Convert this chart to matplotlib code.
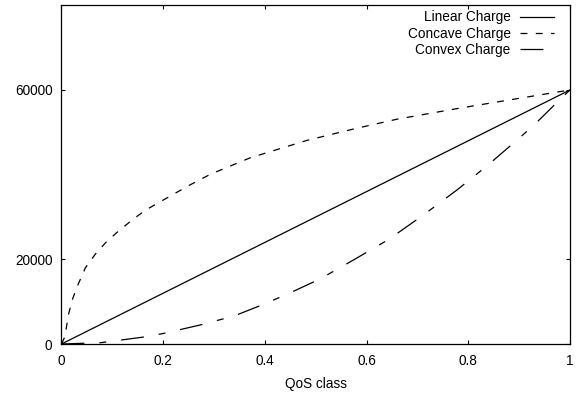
import matplotlib
matplotlib.use("Agg")
import matplotlib.pyplot as plt

plt.rcParams["font.family"] = ["Liberation Sans", "DejaVu Sans"]
plt.rcParams["lines.scale_dashes"] = False

# QoS class positions and charge values
linear_x = [0.0, 1.0]
linear_y = [0, 60000]

concave_x = [0.0, 0.0065, 0.0144, 0.022, 0.031, 0.047, 0.067, 0.0865, 0.1095,
             0.139, 0.165, 0.2045, 0.25, 0.293, 0.3716, 0.483, 0.575, 0.66,
             0.778, 0.909, 1.0]
concave_y = [0, 1700, 7300, 10700, 13600, 18000, 21300, 23900, 26400,
             29300, 31600, 34300, 37400, 40100, 44000, 48100, 50800, 53100,
             55600, 58200, 60000]

convex_x = [0.0, 0.0767, 0.165, 0.201, 0.273, 0.339, 0.398, 0.45, 0.509,
            0.575, 0.6435, 0.712, 0.778, 0.837, 0.902, 0.935, 0.9876, 1.0]
convex_y = [0, 300, 1700, 2500, 4500, 6600, 9400, 12100, 15400,
            19900, 24700, 30500, 36400, 42100, 48800, 52400, 58600, 60000]

x_ticks = [0, 0.2, 0.4, 0.6, 0.8, 1]
x_tick_labels = ["0", "0.2", "0.4", "0.6", "0.8", "1"]
y_ticks = [0, 20000, 60000]
y_tick_labels = ["0", "20000", "60000"]

fig = plt.figure(figsize=(5.84, 4.0), dpi=100)
ax = fig.add_axes([0.1053, 0.14, 0.976 - 0.1053, 0.9868 - 0.14])

lw = 0.9
ax.plot(linear_x, linear_y, color="black", lw=lw, label="Linear Charge")
ax.plot(concave_x, concave_y, color="black", lw=lw, linestyle=(0, (5.0, 6.0)),
        label="Concave Charge")
ax.plot(convex_x, convex_y, color="black", lw=lw,
        linestyle=(0, (16.5, 10.8, 5.0, 10.8)), label="Convex Charge")

ax.set_xlim(0, 1)
ax.set_ylim(0, 80000)
ax.set_xticks(x_ticks)
ax.set_xticklabels(x_tick_labels)
ax.set_yticks(y_ticks)
ax.set_yticklabels(y_tick_labels)
ax.tick_params(direction="in", length=3, width=0.8, labelsize=9.8,
               top=True, right=True, colors="black")
ax.tick_params(axis="x", pad=7.5)
ax.tick_params(axis="y", pad=6.5)
ax.set_xlabel("QoS class", fontsize=9.8, labelpad=6.5)

for s in ax.spines.values():
    s.set_linewidth(0.9)
    s.set_color("black")

ax.legend(loc="upper right", bbox_to_anchor=(0.969, 0.985), frameon=False,
          markerfirst=False, fontsize=9.8, handlelength=2.5,
          handletextpad=0.7, labelspacing=0.16, borderaxespad=0,
          borderpad=0)

fig.savefig("out.png", dpi=100)
